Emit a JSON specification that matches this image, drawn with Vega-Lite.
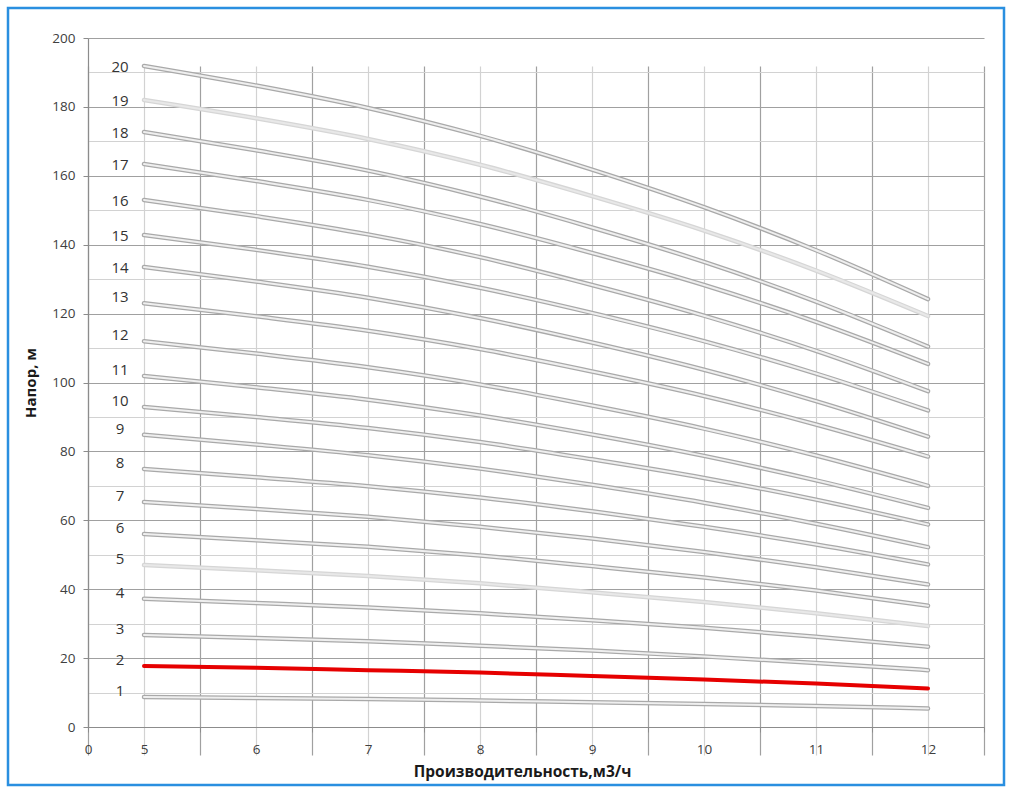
{
  "$schema": "https://vega.github.io/schema/vega-lite/v6.json",
  "width": 996,
  "height": 777,
  "autosize": "none",
  "padding": {"left": 8, "top": 8, "right": 9, "bottom": 9},
  "background": "white",
  "config": {
    "view": {"stroke": "#2a8fe0", "strokeWidth": 2.5},
    "font": "Open Sans"
  },
  "data": {
    "values": [
      {"n": 1, "q": 5, "h": 8.7}, {"n": 1, "q": 6, "h": 8.4}, {"n": 1, "q": 7, "h": 8.1}, {"n": 1, "q": 8, "h": 7.7}, {"n": 1, "q": 9, "h": 7.2}, {"n": 1, "q": 10, "h": 6.7}, {"n": 1, "q": 11, "h": 6.1}, {"n": 1, "q": 12, "h": 5.4},
      {"n": 2, "q": 5, "h": 17.7}, {"n": 2, "q": 6, "h": 17.2}, {"n": 2, "q": 7, "h": 16.5}, {"n": 2, "q": 8, "h": 15.8}, {"n": 2, "q": 9, "h": 14.8}, {"n": 2, "q": 10, "h": 13.8}, {"n": 2, "q": 11, "h": 12.6}, {"n": 2, "q": 12, "h": 11.2},
      {"n": 3, "q": 5, "h": 26.7}, {"n": 3, "q": 6, "h": 25.8}, {"n": 3, "q": 7, "h": 24.9}, {"n": 3, "q": 8, "h": 23.6}, {"n": 3, "q": 9, "h": 22.2}, {"n": 3, "q": 10, "h": 20.5}, {"n": 3, "q": 11, "h": 18.6}, {"n": 3, "q": 12, "h": 16.5},
      {"n": 4, "q": 5, "h": 37.2}, {"n": 4, "q": 6, "h": 36.0}, {"n": 4, "q": 7, "h": 34.7}, {"n": 4, "q": 8, "h": 33.0}, {"n": 4, "q": 9, "h": 31.0}, {"n": 4, "q": 10, "h": 28.8}, {"n": 4, "q": 11, "h": 26.2}, {"n": 4, "q": 12, "h": 23.3},
      {"n": 5, "q": 5, "h": 47.0}, {"n": 5, "q": 6, "h": 45.5}, {"n": 5, "q": 7, "h": 43.8}, {"n": 5, "q": 8, "h": 41.7}, {"n": 5, "q": 9, "h": 39.1}, {"n": 5, "q": 10, "h": 36.3}, {"n": 5, "q": 11, "h": 33.0}, {"n": 5, "q": 12, "h": 29.3},
      {"n": 6, "q": 5, "h": 56.0}, {"n": 6, "q": 6, "h": 54.2}, {"n": 6, "q": 7, "h": 52.3}, {"n": 6, "q": 8, "h": 49.8}, {"n": 6, "q": 9, "h": 46.7}, {"n": 6, "q": 10, "h": 43.4}, {"n": 6, "q": 11, "h": 39.6}, {"n": 6, "q": 12, "h": 35.2},
      {"n": 7, "q": 5, "h": 65.3}, {"n": 7, "q": 6, "h": 63.3}, {"n": 7, "q": 7, "h": 61.0}, {"n": 7, "q": 8, "h": 58.1}, {"n": 7, "q": 9, "h": 54.7}, {"n": 7, "q": 10, "h": 50.8}, {"n": 7, "q": 11, "h": 46.4}, {"n": 7, "q": 12, "h": 41.4},
      {"n": 8, "q": 5, "h": 74.9}, {"n": 8, "q": 6, "h": 72.5}, {"n": 8, "q": 7, "h": 69.9}, {"n": 8, "q": 8, "h": 66.6}, {"n": 8, "q": 9, "h": 62.6}, {"n": 8, "q": 10, "h": 58.1}, {"n": 8, "q": 11, "h": 53.0}, {"n": 8, "q": 12, "h": 47.2},
      {"n": 9, "q": 5, "h": 84.8}, {"n": 9, "q": 6, "h": 82.0}, {"n": 9, "q": 7, "h": 78.9}, {"n": 9, "q": 8, "h": 75.0}, {"n": 9, "q": 9, "h": 70.3}, {"n": 9, "q": 10, "h": 65.1}, {"n": 9, "q": 11, "h": 59.0}, {"n": 9, "q": 12, "h": 52.2},
      {"n": 10, "q": 5, "h": 92.9}, {"n": 10, "q": 6, "h": 90.0}, {"n": 10, "q": 7, "h": 86.8}, {"n": 10, "q": 8, "h": 82.7}, {"n": 10, "q": 9, "h": 77.7}, {"n": 10, "q": 10, "h": 72.3}, {"n": 10, "q": 11, "h": 66.0}, {"n": 10, "q": 12, "h": 58.8},
      {"n": 11, "q": 5, "h": 101.9}, {"n": 11, "q": 6, "h": 98.6}, {"n": 11, "q": 7, "h": 95.0}, {"n": 11, "q": 8, "h": 90.4}, {"n": 11, "q": 9, "h": 84.9}, {"n": 11, "q": 10, "h": 78.7}, {"n": 11, "q": 11, "h": 71.6}, {"n": 11, "q": 12, "h": 63.6},
      {"n": 12, "q": 5, "h": 112.0}, {"n": 12, "q": 6, "h": 108.4}, {"n": 12, "q": 7, "h": 104.4}, {"n": 12, "q": 8, "h": 99.4}, {"n": 12, "q": 9, "h": 93.3}, {"n": 12, "q": 10, "h": 86.6}, {"n": 12, "q": 11, "h": 78.8}, {"n": 12, "q": 12, "h": 70.0},
      {"n": 13, "q": 5, "h": 123.0}, {"n": 13, "q": 6, "h": 119.2}, {"n": 13, "q": 7, "h": 115.0}, {"n": 13, "q": 8, "h": 109.7}, {"n": 13, "q": 9, "h": 103.2}, {"n": 13, "q": 10, "h": 96.1}, {"n": 13, "q": 11, "h": 87.8}, {"n": 13, "q": 12, "h": 78.5},
      {"n": 14, "q": 5, "h": 133.5}, {"n": 14, "q": 6, "h": 129.3}, {"n": 14, "q": 7, "h": 124.6}, {"n": 14, "q": 8, "h": 118.7}, {"n": 14, "q": 9, "h": 111.6}, {"n": 14, "q": 10, "h": 103.7}, {"n": 14, "q": 11, "h": 94.6}, {"n": 14, "q": 12, "h": 84.3},
      {"n": 15, "q": 5, "h": 142.8}, {"n": 15, "q": 6, "h": 138.5}, {"n": 15, "q": 7, "h": 133.6}, {"n": 15, "q": 8, "h": 127.5}, {"n": 15, "q": 9, "h": 120.2}, {"n": 15, "q": 10, "h": 112.0}, {"n": 15, "q": 11, "h": 102.6}, {"n": 15, "q": 12, "h": 91.9},
      {"n": 16, "q": 5, "h": 153.0}, {"n": 16, "q": 6, "h": 148.3}, {"n": 16, "q": 7, "h": 143.0}, {"n": 16, "q": 8, "h": 136.4}, {"n": 16, "q": 9, "h": 128.3}, {"n": 16, "q": 10, "h": 119.4}, {"n": 16, "q": 11, "h": 109.2}, {"n": 16, "q": 12, "h": 97.5},
      {"n": 17, "q": 5, "h": 163.4}, {"n": 17, "q": 6, "h": 158.5}, {"n": 17, "q": 7, "h": 153.0}, {"n": 17, "q": 8, "h": 146.0}, {"n": 17, "q": 9, "h": 137.6}, {"n": 17, "q": 10, "h": 128.3}, {"n": 17, "q": 11, "h": 117.6}, {"n": 17, "q": 12, "h": 105.4},
      {"n": 18, "q": 5, "h": 172.7}, {"n": 18, "q": 6, "h": 167.4}, {"n": 18, "q": 7, "h": 161.5}, {"n": 18, "q": 8, "h": 154.0}, {"n": 18, "q": 9, "h": 145.0}, {"n": 18, "q": 10, "h": 135.0}, {"n": 18, "q": 11, "h": 123.5}, {"n": 18, "q": 12, "h": 110.4},
      {"n": 19, "q": 5, "h": 182.0}, {"n": 19, "q": 6, "h": 176.7}, {"n": 19, "q": 7, "h": 170.7}, {"n": 19, "q": 8, "h": 163.2}, {"n": 19, "q": 9, "h": 154.1}, {"n": 19, "q": 10, "h": 144.1}, {"n": 19, "q": 11, "h": 132.5}, {"n": 19, "q": 12, "h": 119.3},
      {"n": 20, "q": 5, "h": 191.9}, {"n": 20, "q": 6, "h": 186.2}, {"n": 20, "q": 7, "h": 179.7}, {"n": 20, "q": 8, "h": 171.6}, {"n": 20, "q": 9, "h": 161.8}, {"n": 20, "q": 10, "h": 150.9}, {"n": 20, "q": 11, "h": 138.4}, {"n": 20, "q": 12, "h": 124.2}
    ]
  },
  "encoding": {
    "x": {
      "field": "q", "type": "quantitative",
      "scale": {"domain": [4.5, 12.5], "range": [80, 976], "nice": false, "zero": false},
      "axis": {
        "orient": "bottom", "offset": -58,
        "title": "Производительность,м3/ч",
        "titleFont": "Open Sans", "titleFontSize": 15.5, "titleFontWeight": "bold", "titleColor": "#1a1a1a",
        "titlePadding": 9, "titleX": 514,
        "values": [4.5, 5, 5.5, 6, 6.5, 7, 7.5, 8, 8.5, 9, 9.5, 10, 10.5, 11, 11.5, 12, 12.5],
        "labelExpr": "datum.value == 4.5 ? '0' : (datum.value % 1 == 0 ? '' + datum.value : '')",
        "labelFontSize": 13.5, "labelColor": "#404040", "labelPadding": 10, "labelFlush": false,
        "labelOverlap": false,
        "domainColor": "#8c8c8c", "domainWidth": 1.2,
        "tickColor": "#8c8c8c", "tickSize": 5,
        "tickOpacity": {"condition": {"test": "datum.value % 1 == 0.5", "value": 1}, "value": 0},
        "grid": true,
        "gridColor": {"condition": {"test": "datum.value % 1 == 0.5", "value": "#a0a0a0"}, "value": "#d2d2d2"},
        "gridWidth": 1.2
      }
    },
    "y": {
      "field": "h", "type": "quantitative",
      "scale": {"domain": [0, 200], "range": [719, 30], "nice": false, "zero": true},
      "axis": {
        "orient": "left", "offset": -80,
        "title": "Напор, м",
        "titleFont": "Open Sans", "titleFontSize": 15, "titleFontWeight": "bold", "titleColor": "#1a1a1a",
        "titlePadding": 13,
        "values": [0, 10, 20, 30, 40, 50, 60, 70, 80, 90, 100, 110, 120, 130, 140, 150, 160, 170, 180, 190, 200],
        "labelExpr": "datum.value % 20 == 0 ? '' + datum.value : ''",
        "labelFontSize": 13.5, "labelColor": "#404040", "labelPadding": 8,
        "labelOverlap": false,
        "domainColor": "#8c8c8c", "domainWidth": 1.2,
        "tickColor": "#8c8c8c", "tickSize": 5,
        "tickOpacity": {"condition": {"test": "datum.value % 20 == 0", "value": 1}, "value": 0},
        "grid": true,
        "gridColor": {"condition": {"test": "datum.value % 20 == 0", "value": "#a0a0a0"}, "value": "#d2d2d2"},
        "gridWidth": 1.2
      }
    }
  },
  "layer": [
    {
      "mark": {"type": "line", "strokeCap": "round", "strokeJoin": "round", "interpolate": "monotone"},
      "encoding": {
        "detail": {"field": "n", "type": "nominal"},
        "color": {"condition": [{"test": "datum.n == 2", "value": "#e60000"}, {"test": "datum.n == 5 || datum.n == 19", "value": "#d6d6d6"}], "value": "#a9a9a9"},
        "strokeWidth": {"condition": {"test": "datum.n == 2", "value": 4}, "value": 4.5}
      }
    },
    {
      "transform": [{"filter": "datum.n != 2"}],
      "mark": {"type": "line", "strokeCap": "round", "strokeJoin": "round", "interpolate": "monotone"},
      "encoding": {
        "detail": {"field": "n", "type": "nominal"},
        "color": {"condition": {"test": "datum.n == 5 || datum.n == 19", "value": "#e8e8e8"}, "value": "#efefef"},
        "strokeWidth": {"value": 2}
      }
    },
    {
      "transform": [{"filter": "datum.q == 5 && datum.n >= 14"}],
      "mark": {"type": "text", "dx": -24, "dy": 1, "fontSize": 15, "color": "#333333", "font": "Open Sans"},
      "encoding": {
        "text": {"field": "n", "type": "nominal"}
      }
    },
    {
      "transform": [{"filter": "datum.q == 5 && datum.n < 14"}],
      "mark": {"type": "text", "dx": -24, "dy": -6, "fontSize": 15, "color": "#333333", "font": "Open Sans"},
      "encoding": {
        "text": {"field": "n", "type": "nominal"}
      }
    }
  ]
}
